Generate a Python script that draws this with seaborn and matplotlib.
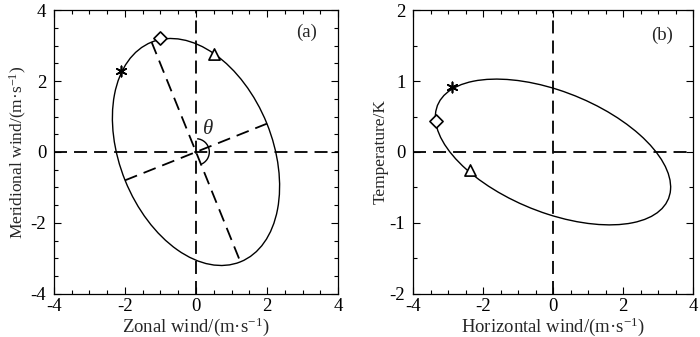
"""
Hodographs of the wave: wind (a) and wind-temperature (b)
"""

import matplotlib
matplotlib.use('Agg')
import matplotlib.pyplot as plt
from matplotlib.patches import Ellipse, Arc
from matplotlib.ticker import MultipleLocator
import pandas as pd
import seaborn as sns

# (a) u-v hodograph: ellipse
a_semi_major = 3.34
a_semi_minor = 2.15
a_angle = 112.0
a_major_x = [-1.25, 1.25]
a_major_y = [3.10, -3.10]
a_minor_x = [-2.00, 2.00]
a_minor_y = [-0.80, 0.80]
a_mark_x = [-2.10, -1.02, 0.50]
a_mark_y = [2.27, 3.20, 2.77]

# (b) u-T hodograph
b_semi_major = 3.40
b_semi_minor = 0.89
b_angle = -9.0
b_mark_x = [-2.90, -3.33, -2.38]
b_mark_y = [0.92, 0.43, -0.25]

mark_kind = ['asterisk', 'diamond', 'triangle']

sns.set_style('ticks')
plt.rcParams['font.family'] = ['Liberation Serif', 'DejaVu Serif']
plt.rcParams['mathtext.fontset'] = 'custom'
plt.rcParams['mathtext.rm'] = 'Liberation Serif'
plt.rcParams['mathtext.it'] = 'Liberation Serif:italic'
plt.rcParams['axes.unicode_minus'] = False

markers = {'asterisk': (6, 2, 0), 'diamond': 'D', 'triangle': '^'}
sizes = {'asterisk': 55, 'diamond': 45, 'triangle': 65}
faces = {'asterisk': 'black', 'diamond': 'white', 'triangle': 'white'}
dash = dict(color='black', lw=1.3, dashes=(7.2, 3.9))
TICK_FS = 13.5
LAB_FS = 13.5


def style_axes(ax, xlim, ylim, ymajor):
    ax.set_xlim(*xlim)
    ax.set_ylim(*ylim)
    ax.xaxis.set_major_locator(MultipleLocator(2))
    ax.xaxis.set_minor_locator(MultipleLocator(0.5))
    ax.yaxis.set_major_locator(MultipleLocator(ymajor))
    ax.yaxis.set_minor_locator(MultipleLocator(0.5))
    ax.tick_params(which='both', direction='in', top=True, right=True,
                   width=0.8, labelsize=TICK_FS, colors='black')
    ax.tick_params(which='major', length=5)
    ax.tick_params(which='minor', length=3)
    ax.tick_params(axis='x', which='major', pad=3)
    ax.tick_params(axis='y', which='major', pad=5.5)
    for s in ax.spines.values():
        s.set_linewidth(0.9)
        s.set_color('black')


def draw_marks(ax, xs, ys):
    df = pd.DataFrame({'x': xs, 'y': ys, 'kind': mark_kind})
    for kind, sub in df.groupby('kind'):
        sns.scatterplot(data=sub, x='x', y='y', ax=ax, marker=markers[kind],
                        s=sizes[kind], facecolor=faces[kind], edgecolor='black',
                        linewidth=1.2, zorder=5, legend=False)


fig = plt.figure(figsize=(7, 3.37), dpi=100)
ax1 = fig.add_axes([0.077, 0.128, 0.406, 0.842])
ax2 = fig.add_axes([0.590, 0.128, 0.400, 0.842])

# panel (a)
ax1.axhline(0, **dash)
ax1.axvline(0, **dash)
sns.lineplot(x=a_major_x, y=a_major_y, ax=ax1, sort=False, **dash)
sns.lineplot(x=a_minor_x, y=a_minor_y, ax=ax1, sort=False, **dash)
ax1.add_patch(Ellipse((0, 0), 2 * a_semi_major, 2 * a_semi_minor, angle=a_angle,
                      fill=False, color='black', lw=1.0))
ax1.add_patch(Arc((0, 0), 0.75, 0.75, theta1=-70, theta2=85, color='black', lw=1.0))
ax1.text(0.34, 0.62, r'$\theta$', fontsize=15, ha='center', va='center')
draw_marks(ax1, a_mark_x, a_mark_y)
style_axes(ax1, (-4, 4), (-4, 4), 2)
ax1.set_xlabel('Zonal wind/(m·s$^{-1}$)', fontsize=LAB_FS, labelpad=0)
ax1.set_ylabel('Meridional wind/(m·s$^{-1}$)', fontsize=12.5, labelpad=1)
ax1.text(0.89, 0.92, '(a)', transform=ax1.transAxes, fontsize=LAB_FS,
         ha='center', va='center')

# panel (b)
ax2.axhline(0, **dash)
ax2.axvline(0, **dash)
ax2.add_patch(Ellipse((0, 0), 2 * b_semi_major, 2 * b_semi_minor, angle=b_angle,
                      fill=False, color='black', lw=1.0))
draw_marks(ax2, b_mark_x, b_mark_y)
style_axes(ax2, (-4, 4), (-2, 2), 1)
ax2.set_xlabel('Horizontal wind/(m·s$^{-1}$)', fontsize=LAB_FS, labelpad=0)
ax2.set_ylabel('Temperature/K', fontsize=12.5, labelpad=1)
ax2.text(0.89, 0.91, '(b)', transform=ax2.transAxes, fontsize=LAB_FS,
         ha='center', va='center')

fig.savefig('out.png', dpi=100)
